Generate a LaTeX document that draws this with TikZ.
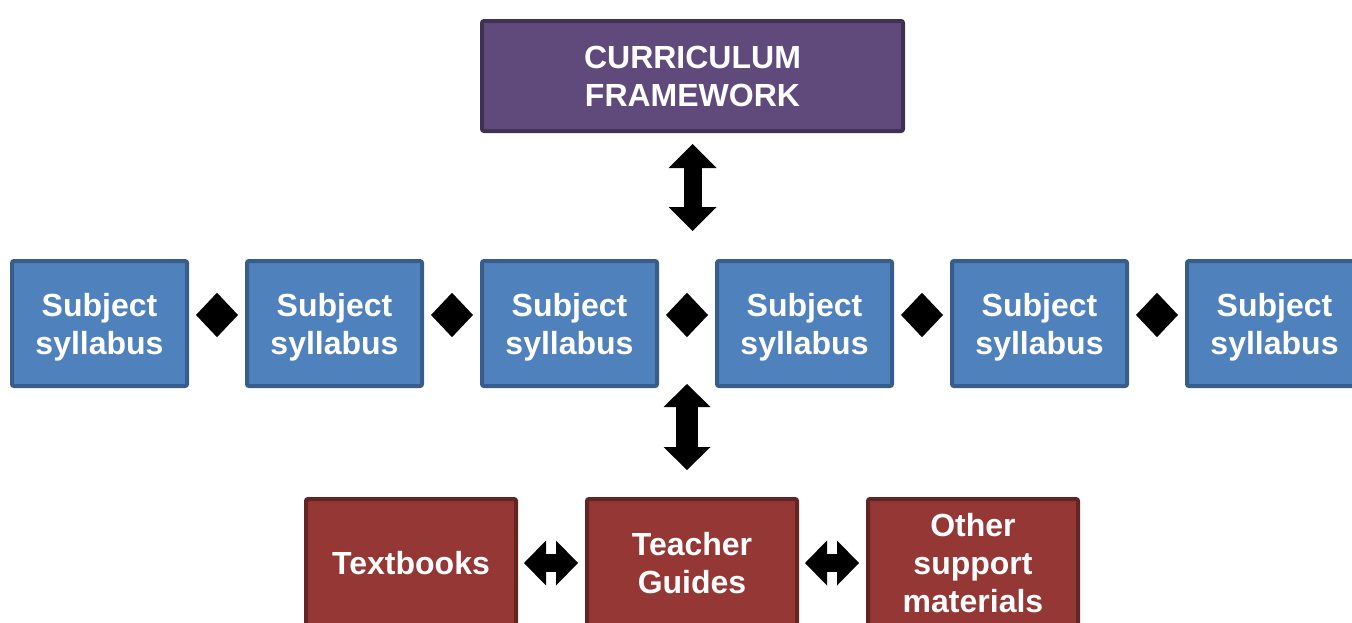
\documentclass[tikz,border=0pt]{standalone}
\usepackage{fontspec}
\setmainfont{Liberation Sans}
\usepackage{tikz}
\usetikzlibrary{arrows.meta,positioning,calc}
\definecolor{frameviolet}{HTML}{604A7B}
\definecolor{frameedge}{HTML}{3F3151}
\definecolor{sylblue}{HTML}{4F81BD}
\definecolor{syledge}{HTML}{385D8A}
\definecolor{resred}{HTML}{953735}
\definecolor{resedge}{HTML}{632523}
\tikzset{
  box/.style={draw, line width=3pt, rounded corners=1.5pt, align=center, inner sep=0pt,
    text=white, text depth=0pt, font=\fontsize{24}{28.5}\selectfont\bfseries},
  framebox/.style={box, fill=frameviolet, draw=frameedge, minimum width=315.75pt, minimum height=82.5pt},
  sylbox/.style={box, fill=sylblue, draw=syledge, minimum width=131.25pt, minimum height=93.75pt},
  resbox/.style={box, fill=resred, draw=resedge, minimum width=157.5pt, minimum height=96pt},
  bigarrow/.style={line width=13.5pt, >={Triangle[width=36pt,length=18pt,line width=0pt]}, <->},
  downarrow/.style={line width=16.5pt, >={Triangle[width=35.25pt,length=17.25pt,line width=0pt]}, <->},
  siderarrow/.style={line width=13.5pt, >={Triangle[width=33.75pt,length=16.5pt,line width=0pt]}, <->,
    shorten <=4.5pt, shorten >=5.25pt},
  diamondlink/.style={line width=0.1pt, >={Triangle[width=33pt,length=15.6pt,line width=0pt]}, <->,
    shorten <=5.25pt, shorten >=5.25pt}
}

\begin{document}
\begin{tikzpicture}[x=0.75pt, y=-0.75pt, node distance=42pt]
\useasboundingbox (0,0) rectangle (1352,622);
\clip (0,0) rectangle (1352,622);
% 课程框架
\node[framebox] (fw) at (692.5,76) {CURRICULUM\\FRAMEWORK};
% 学科大纲
\node[sylbox] (s1) at (99.5,323.5) {Subject\\syllabus};
\node[sylbox, right=of s1] (s2) {Subject\\syllabus};
\node[sylbox, right=of s2] (s3) {Subject\\syllabus};
\node[sylbox, right=of s3] (s4) {Subject\\syllabus};
\node[sylbox, right=of s4] (s5) {Subject\\syllabus};
\node[sylbox, right=of s5] (s6) {Subject\\syllabus};
% 教学资源
\node[resbox] (tg) at (692,563) {Teacher\\Guides};
\node[resbox, left=50.25pt of tg] (tb) {Textbooks};
\node[resbox, right=50.25pt of tg] (osm) {Other\\support\\materials};
% 连接
\draw[bigarrow, shorten <=8.25pt, shorten >=21pt] (fw.south) -- (fw.south |- s3.north);
\draw[diamondlink] ([yshift=6.4pt]s1.east) -- ([yshift=6.4pt]s2.west);
\draw[diamondlink] ([yshift=6.4pt]s2.east) -- ([yshift=6.4pt]s3.west);
\draw[diamondlink] ([yshift=6.4pt]s3.east) -- ([yshift=6.4pt]s4.west);
\draw[diamondlink] ([yshift=6.4pt]s4.east) -- ([yshift=6.4pt]s5.west);
\draw[diamondlink] ([yshift=6.4pt]s5.east) -- ([yshift=6.4pt]s6.west);
\coordinate (gap) at ($(s3.south east)!.5!(s4.south west)+(0,-4)$);
\draw[downarrow, shorten >=20.25pt] (gap) -- (gap |- tg.north);
\draw[siderarrow] (tb) -- (tg);
\draw[siderarrow] (tg) -- (osm);
\end{tikzpicture}
\end{document}
